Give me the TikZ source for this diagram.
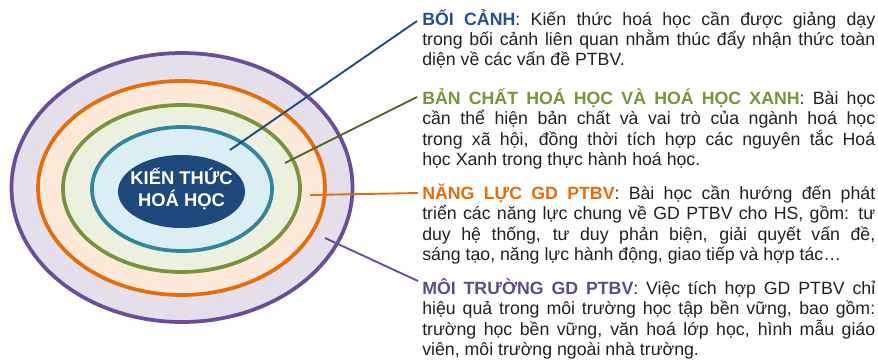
\documentclass[tikz,border=0pt]{standalone}
\usepackage{fontspec}
\setmainfont{Liberation Sans}
\usetikzlibrary{shapes.geometric}
\definecolor{cpur}{HTML}{6B4C9A}
\definecolor{fpur}{HTML}{E5DFEC}
\definecolor{cora}{HTML}{E46C0A}
\definecolor{fora}{HTML}{FDE9D9}
\definecolor{cgre}{HTML}{77933C}
\definecolor{fgre}{HTML}{EBF1DE}
\definecolor{ctea}{HTML}{31859C}
\definecolor{ftea}{HTML}{DBEEF4}
\definecolor{cblu}{HTML}{1F497D}
\definecolor{hblu}{HTML}{24508F}
\definecolor{hpur}{HTML}{5F4A82}
\definecolor{txt}{HTML}{231F20}
\newcommand{\jline}[1]{\makebox[\linewidth][s]{#1}\\}
\newcommand{\hd}[2]{\textcolor{#1}{\textbf{#2}}}
\newlength{\tw}
\setlength{\tw}{339.75pt}
\tikzset{
  ring/.style={line width=2.8pt},
  conn/.style={line width=1.4pt},
  blk/.style={anchor=base west, inner sep=0pt, text=txt},
}
\newcommand{\blocktext}[1]{\parbox[t]{\tw}{\fontsize{13.3pt}{15.2pt}\selectfont #1}}
\begin{document}
\begin{tikzpicture}[x=0.75pt,y=-0.75pt]
\useasboundingbox (0,0) rectangle (878,362);
% rings
\draw[ring, cpur, fill=fpur] (182,187.5) ellipse [x radius=170.5, y radius=134.5];
\draw[ring, cora, fill=fora] (181.5,188) ellipse [x radius=143.5, y radius=107];
\draw[ring, cgre, fill=fgre] (181.5,188.5) ellipse [x radius=118.5, y radius=83.5];
\draw[ring, ctea, fill=ftea] (182,189) ellipse [x radius=90, y radius=62];
\node[ellipse, fill=cblu, minimum width=127*0.75pt, minimum height=73*0.75pt, inner sep=0pt] (core) at (181.5,191.5) {};
\node[text=white, align=center, font=\fontsize{13.8pt}{16pt}\selectfont\bfseries] (coretext) at (181.5,189) {KIẾN THỨC\\HOÁ HỌC};
% connector points
\coordinate (p1) at (230,150);
\coordinate (q1) at (417,21);
\coordinate (p2) at (285,163);
\coordinate (q2) at (417,97);
\coordinate (p3) at (310,195);
\coordinate (q3) at (418,193);
\coordinate (p4) at (325,238);
\coordinate (q4) at (418,281);
\draw[conn, cblu] (p1) -- (q1);
\draw[conn, cgre!70!black] (p2) -- (q2);
\draw[conn, cora] (p3) -- (q3);
\draw[conn, cpur] (p4) -- (q4);
% texts
\node[blk] (t1) at (422,25) {\blocktext{%
\jline{\hd{hblu}{BỐI CẢNH}: Kiến thức hoá học cần được giảng dạy}
\jline{trong bối cảnh liên quan nhằm thúc đẩy nhận thức toàn}
diện về các vấn đề PTBV.}};
\node[blk] (t2) at (422,104.5) {\blocktext{%
\jline{\hd{cgre}{BẢN CHẤT HOÁ HỌC VÀ HOÁ HỌC XANH}: Bài học}
\jline{cần thể hiện bản chất và vai trò của ngành hoá học}
\jline{trong xã hội, đồng thời tích hợp các nguyên tắc Hoá}
học Xanh trong thực hành hoá học.}};
\node[blk] (t3) at (422,199.5) {\blocktext{%
\jline{\hd{cora}{NĂNG LỰC GD PTBV}: Bài học cần hướng đến phát}
\jline{triển các năng lực chung về GD PTBV cho HS, gồm: tư}
\jline{duy hệ thống, tư duy phản biện, giải quyết vấn đề,}
sáng tạo, năng lực hành động, giao tiếp và hợp tác…}};
\node[blk] (t4) at (422,294.5) {\blocktext{%
\jline{\hd{hpur}{MÔI TRƯỜNG GD PTBV}: Việc tích hợp GD PTBV chỉ}
\jline{hiệu quả trong môi trường học tập bền vững, bao gồm:}
\jline{trường học bền vững, văn hoá lớp học, hình mẫu giáo}
viên, môi trường ngoài nhà trường.}};
\end{tikzpicture}
\end{document}
